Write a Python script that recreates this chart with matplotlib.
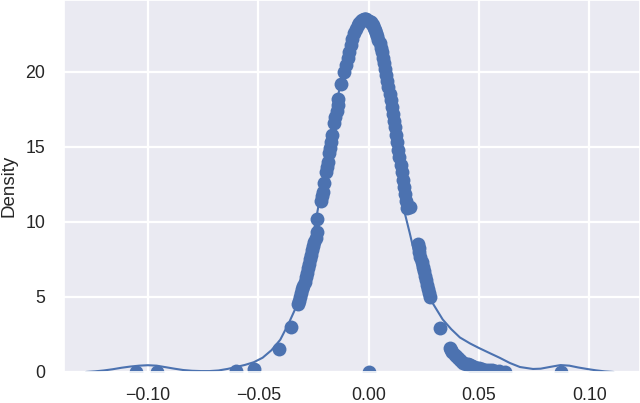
import matplotlib
matplotlib.use("Agg")
import matplotlib.pyplot as plt
import seaborn as sns

# scatter: returns vs. fitted normal density
returns = [
    -0.1055, -0.096, -0.060, -0.052, -0.0405, -0.035,
    -0.032, -0.0315, -0.031, -0.0305, -0.030, -0.0295, -0.029, -0.0285,
    -0.028, -0.0275, -0.027, -0.0265, -0.026, -0.0255, -0.025,
    -0.0245, -0.024, -0.0235, -0.0232,
    -0.0214, -0.021, -0.0205, -0.020,
    -0.0195, -0.019, -0.0185, -0.018, -0.0175, -0.017, -0.0165, -0.0155,
    -0.015, -0.0145, -0.014, -0.0138, -0.0123,
    -0.011, -0.0103, -0.0095, -0.0088, -0.008, -0.0073, -0.0065, -0.0058,
    -0.005, -0.0043, -0.0035, -0.0028, -0.002, -0.0015, -0.001,
    0.000, 0.0005, 0.001, 0.0015, 0.002, 0.0025, 0.003, 0.0035, 0.004,
    0.0045, 0.005, 0.0055, 0.006, 0.0065, 0.007, 0.0075, 0.008, 0.0085,
    0.009, 0.0095, 0.010, 0.0105, 0.011, 0.0115, 0.012, 0.0125, 0.013,
    0.0135, 0.014, 0.0145, 0.015, 0.0155, 0.016, 0.0165, 0.017, 0.0175,
    0.0186,
    0.0223, 0.0227, 0.023, 0.0235, 0.024, 0.0245, 0.025, 0.0255, 0.026,
    0.0265, 0.027, 0.0273, 0.0277,
    0.0323, 0.0368, 0.0375, 0.038, 0.039, 0.040, 0.041, 0.042, 0.043,
    0.044, 0.045, 0.046, 0.047, 0.048, 0.049, 0.050, 0.0515,
    0.053, 0.0545, 0.056, 0.0575, 0.059, 0.062, 0.087, 0.000,
]
density = [
    0.0, 0.0, 0.05, 0.2, 1.5, 3.0,
    4.5, 4.75, 5.0, 5.25, 5.5, 5.75, 6.0, 6.3,
    6.6, 6.9, 7.2, 7.5, 7.8, 8.1, 8.4,
    8.65, 8.9, 9.3, 10.2,
    11.4, 11.7, 12.0, 12.6,
    13.3, 13.65, 14.0, 14.6, 14.95, 15.3, 15.8, 16.6,
    17.0, 17.4, 17.8, 18.2, 19.2,
    20.0, 20.45, 20.9, 21.35, 21.8, 22.2, 22.6, 22.85,
    23.1, 23.25, 23.4, 23.45, 23.5, 23.5, 23.5,
    23.4, 23.35, 23.3, 23.2, 23.1, 22.95, 22.8, 22.6, 22.4,
    22.15, 21.9, 21.6, 21.3, 20.95, 20.6, 20.2, 19.8, 19.4,
    19.0, 18.55, 18.1, 17.65, 17.2, 16.75, 16.3, 15.8, 15.3,
    14.8, 14.3, 13.8, 13.3, 12.8, 12.3, 11.85, 11.4, 10.9,
    11.0,
    8.5, 8.25, 8.0, 7.65, 7.3, 7.0, 6.7, 6.4, 6.1,
    5.8, 5.5, 5.25, 5.0,
    2.9, 1.6, 1.45, 1.35, 1.15, 1.0, 0.85, 0.7, 0.62,
    0.55, 0.5, 0.45, 0.38, 0.3, 0.27, 0.25, 0.2,
    0.15, 0.12, 0.1, 0.07, 0.05, 0.03, 0.0, 0.0,
]

# kernel density estimate curve
kde_x = [
    -0.128, -0.124, -0.120, -0.116, -0.112, -0.108, -0.104, -0.100, -0.096,
    -0.092, -0.088, -0.084, -0.080, -0.076, -0.072, -0.068, -0.064, -0.060,
    -0.056, -0.052, -0.048, -0.044, -0.040, -0.036, -0.032, -0.028,
    -0.024, -0.020, -0.016, -0.012, -0.008, -0.004, 0.000, 0.004, 0.008,
    0.012, 0.0164, 0.0186, 0.021, 0.023, 0.026, 0.029, 0.0336, 0.0375,
    0.0414, 0.046, 0.050, 0.055, 0.0595, 0.064, 0.0686, 0.0745, 0.078,
    0.082, 0.087, 0.091, 0.095, 0.099, 0.103, 0.107, 0.111,
]
kde_y = [
    0.0, 0.04, 0.10, 0.18, 0.28, 0.36, 0.42, 0.45, 0.42,
    0.32, 0.22, 0.13, 0.08, 0.06, 0.06, 0.10, 0.20, 0.33,
    0.47, 0.65, 0.95, 1.45, 2.15, 3.30, 4.60, 7.00,
    10.0, 13.3, 16.7, 19.8, 22.1, 23.3, 23.4, 22.1, 19.8,
    16.0, 10.6, 9.3, 7.8, 6.6, 5.5, 4.6, 3.5, 2.85,
    2.3, 1.9, 1.6, 1.25, 0.94, 0.6, 0.33, 0.20, 0.22,
    0.33, 0.46, 0.42, 0.30, 0.20, 0.11, 0.04, 0.0,
]

sns.set_theme(style="darkgrid")
plt.rcParams["font.family"] = ["Liberation Sans", "DejaVu Sans"]

fig = plt.figure(figsize=(6.4, 4.03), dpi=100)
ax = fig.add_axes([0.1, 0.077, 0.9, 0.923])

blue = "#4C72B0"
ax.plot(kde_x, kde_y, color=blue, lw=1.5)
ax.scatter(returns, density, color=blue, s=100, linewidths=0)

ax.set_xlim(-0.138, 0.123)
ax.set_ylim(0, 24.8)
ax.set_xticks([-0.10, -0.05, 0.00, 0.05, 0.10])
ax.set_yticks([0, 5, 10, 15, 20])
ax.tick_params(axis="both", length=0, labelsize=12.8, labelcolor="#262626")
ax.tick_params(axis="y", pad=13.5)
ax.tick_params(axis="x", pad=11)
ax.set_ylabel("Density", fontsize=13.5, color="#262626", labelpad=6)
for g in ax.get_xgridlines() + ax.get_ygridlines():
    g.set_linewidth(1.6)

fig.savefig("out.png", dpi=100)
